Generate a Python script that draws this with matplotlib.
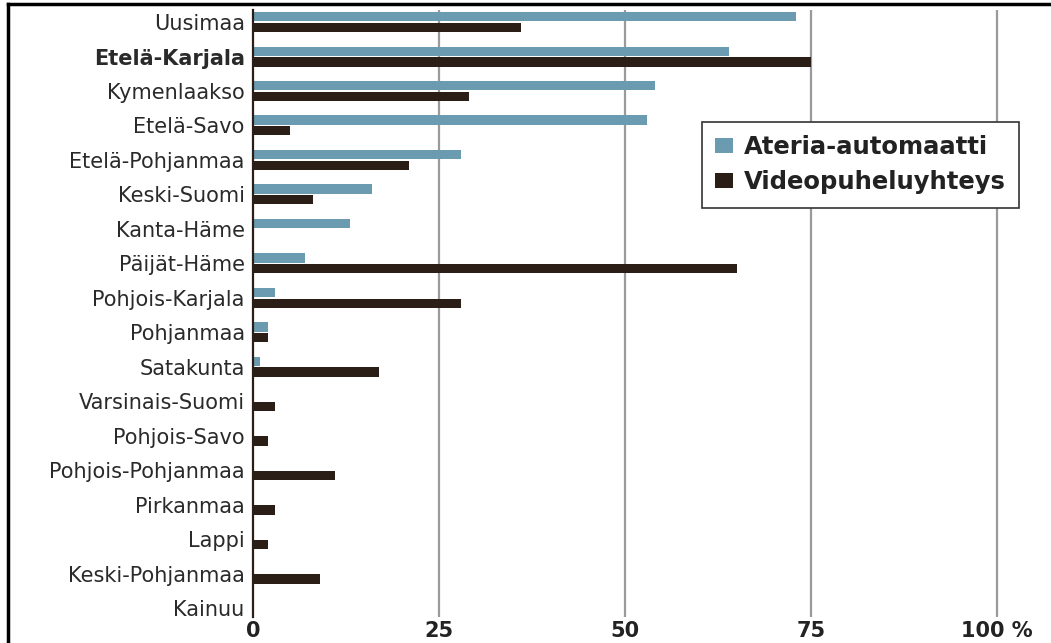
import numpy as np
import matplotlib.pyplot as plt
from matplotlib.lines import Line2D
from matplotlib.patches import Patch

regions = ['Uusimaa', 'Etelä-Karjala', 'Kymenlaakso', 'Etelä-Savo',
           'Etelä-Pohjanmaa', 'Keski-Suomi', 'Kanta-Häme', 'Päijät-Häme',
           'Pohjois-Karjala', 'Pohjanmaa', 'Satakunta', 'Varsinais-Suomi',
           'Pohjois-Savo', 'Pohjois-Pohjanmaa', 'Pirkanmaa', 'Lappi',
           'Keski-Pohjanmaa', 'Kainuu']
ateria = [73, 64, 54, 53, 28, 16, 13, 7, 3, 2, 1, 0, 0, 0, 0, 0, 0, 0]
video = [36, 75, 29, 5, 21, 8, 0, 65, 28, 2, 17, 3, 2, 11, 3, 2, 9, 0]
x_ticks = [0, 25, 50, 75, 100]
x_ticklabels = ['0', '25', '50', '75', '100 %']

blue = '#6b9bb0'
dark = '#2a1e16'

fig = plt.figure(figsize=(10.51, 6.43), dpi=100)
ax = fig.add_axes([253 / 1051, 1 - 617 / 643, (1045 - 253) / 1051, (617 - 10) / 643])

y = np.arange(len(regions))
h = 0.27
ax.barh(y - 0.155, ateria, height=h, color=blue, zorder=2)
ax.barh(y + 0.155, video, height=h, color=dark, zorder=2)

ax.set_xlim(0, 100 * (1045 - 253) / (997 - 253))
ax.set_ylim(17.26, -0.35)

for t in x_ticks[1:]:
    ax.axvline(t, color='#9a9a9a', lw=1.6, zorder=1)

ax.set_xticks(x_ticks)
ax.set_xticklabels(x_ticklabels, fontsize=15, fontweight='bold', color='#222222')
ax.set_yticks(y)
ax.set_yticklabels(regions, fontsize=15, color='#2a2a2a')
ax.get_yticklabels()[1].set_fontweight('bold')
ax.tick_params(axis='both', length=0)
ax.tick_params(axis='y', pad=6)
ax.tick_params(axis='x', pad=3)

for s in ['top', 'right', 'bottom']:
    ax.spines[s].set_visible(False)
ax.spines['left'].set_color(dark)
ax.spines['left'].set_linewidth(1.6)

handles = [Patch(facecolor=blue, label='Ateria-automaatti'),
           Patch(facecolor=dark, label='Videopuheluyhteys')]
leg = fig.legend(handles=handles, loc='upper left',
                 bbox_to_anchor=(702 / 1051, 1 - 122 / 643),
                 prop={'size': 17.5, 'weight': 'bold'}, fancybox=False,
                 edgecolor='#333333', framealpha=1, borderpad=0.55,
                 handlelength=0.72, handleheight=0.55, handletextpad=0.45,
                 labelspacing=0.45, borderaxespad=0)
leg.get_frame().set_linewidth(1.2)
for t in leg.get_texts():
    t.set_color('#222222')

# outer frame on top and left edge
fig.add_artist(Line2D([8 / 1051, 8 / 1051], [0, 1 - 4 / 643], color='black', lw=2.5))
fig.add_artist(Line2D([8 / 1051, 1], [1 - 4 / 643, 1 - 4 / 643], color='black', lw=2.5))

fig.savefig('out.png', dpi=100)
